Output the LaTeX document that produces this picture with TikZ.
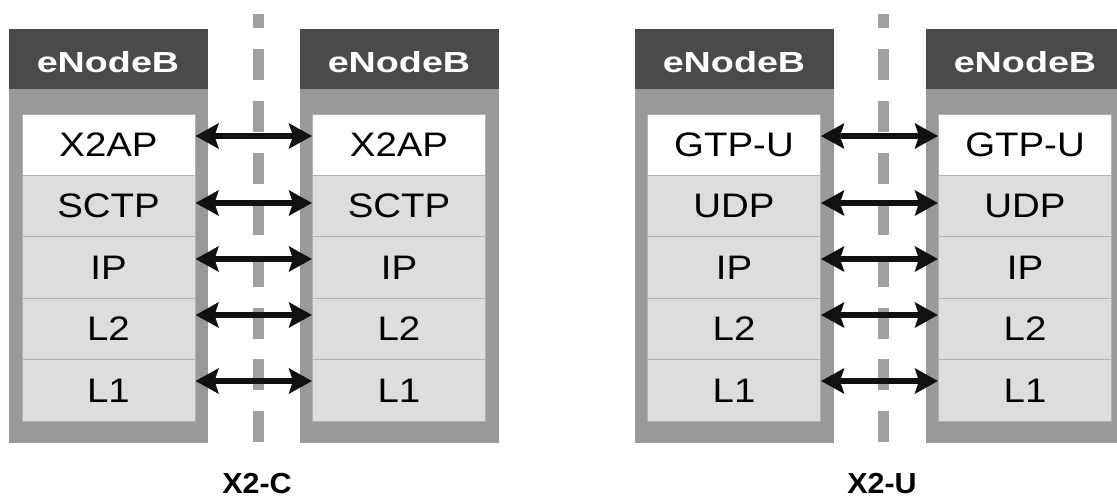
\documentclass[tikz,border=0pt]{standalone}
\usepackage{fontspec}
\setmainfont{Liberation Sans}
\usetikzlibrary{arrows.meta}

\definecolor{hdrgray}{HTML}{4A4A4A}
\definecolor{framegray}{HTML}{999999}
\definecolor{layergray}{HTML}{DDDDDD}
\definecolor{seamgray}{HTML}{B2B2B2}
\definecolor{cutgray}{HTML}{A0A0A0}
\definecolor{ink}{HTML}{111111}

\tikzset{
  enbbody/.style={fill=framegray, draw=none, inner sep=0pt,
    minimum width=199pt, minimum height=414pt},
  enbhead/.style={fill=hdrgray, draw=none, inner sep=0pt, text=white,
    minimum width=199pt, minimum height=60pt,
    text height=26pt, text depth=0pt,
    font=\fontsize{29}{29}\selectfont\bfseries},
  stacklayer/.style={fill=layergray, draw=seamgray, line width=1pt,
    inner sep=0pt, minimum width=173pt, minimum height=61.4pt,
    font=\fontsize{34}{34}\selectfont},
  toplayer/.style={stacklayer, fill=white},
  peerlink/.style={draw=ink, line width=6pt,
    {Stealth[length=23pt, width=25pt, inset=4pt]}-{Stealth[length=23pt, width=25pt, inset=4pt]}},
  refpoint/.style={draw=cutgray, line width=11pt, dash pattern=on 31pt off 20.7pt},
  ifname/.style={font=\fontsize{29}{29}\selectfont\bfseries, anchor=base}
}
\newcommand{\wide}[2]{\scalebox{#1}[1]{#2}}

\begin{document}
\begin{tikzpicture}[x=1pt, y=-1pt]
  \useasboundingbox (0,0) rectangle (1117,498);
  \clip (0,0) rectangle (1117,498);

  % eNodeB frames with their headers
  \foreach \b/\cx in {A/108, B/399, C/734, D/1025} {
    \node[enbbody] (\b box) at (\cx,236) {};
    \node[enbhead] (\b head) at (\cx,59) {\wide{1.3}{eNodeB}};
  }

  % X2-C protocol stacks
  \foreach \b/\cx in {A/108.5, B/399} {
    \node[toplayer]   (\b1) at (\cx,144.7) {\wide{1.13}{X2AP}};
    \node[stacklayer] (\b2) at (\cx,206.1) {\wide{1.13}{SCTP}};
    \node[stacklayer] (\b3) at (\cx,267.5) {\wide{1.13}{IP}};
    \node[stacklayer] (\b4) at (\cx,328.9) {\wide{1.13}{L2}};
    \node[stacklayer] (\b5) at (\cx,390.3) {\wide{1.13}{L1}};
  }

  % X2-U protocol stacks
  \foreach \b/\cx in {C/734, D/1025} {
    \node[toplayer]   (\b1) at (\cx,144.7) {\wide{1.13}{GTP-U}};
    \node[stacklayer] (\b2) at (\cx,206.1) {\wide{1.13}{UDP}};
    \node[stacklayer] (\b3) at (\cx,267.5) {\wide{1.13}{IP}};
    \node[stacklayer] (\b4) at (\cx,328.9) {\wide{1.13}{L2}};
    \node[stacklayer] (\b5) at (\cx,390.3) {\wide{1.13}{L1}};
  }

  % reference points between the peers
  \coordinate (xcTop) at (258,14);
  \coordinate (xcBot) at (258,442);
  \coordinate (xuTop) at (883,14);
  \coordinate (xuBot) at (883,442);
  \draw[refpoint] (xcBot) -- (xcTop);
  \draw[refpoint] (xuBot) -- (xuTop);

  % peer-to-peer links per layer
  \foreach \l/\dy in {1/8.7, 2/3.1, 3/8.5, 4/13.9, 5/9.3} {
    \draw[peerlink] ([yshift=\dy pt]A\l.east) -- ([yshift=\dy pt]B\l.west);
    \draw[peerlink] ([yshift=\dy pt]C\l.east) -- ([yshift=\dy pt]D\l.west);
  }

  % interface names
  \node[ifname] (xc) at (257,493) {\wide{1.05}{X2-C}};
  \node[ifname] (xu) at (882,493) {\wide{1.05}{X2-U}};
\end{tikzpicture}
\end{document}
